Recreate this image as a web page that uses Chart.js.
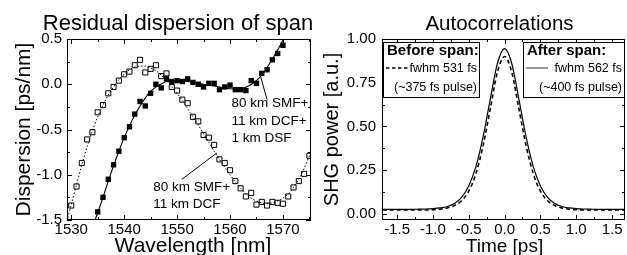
<!DOCTYPE html>
<html>
<head>
<meta charset="utf-8">
<script src="https://cdn.jsdelivr.net/npm/chart.js@4.4.1/dist/chart.umd.min.js"></script>
<style>
  html, body { margin: 0; padding: 0; background: #fff; }
  #wrap { position: relative; width: 627px; height: 255px; overflow: hidden; }
  canvas { position: absolute; top: 0; }
  #dispChart { left: 0; }
  #acChart { left: 318px; }
</style>
</head>
<body>
<div id="wrap">
  <canvas id="dispChart" width="318" height="255"></canvas>
  <canvas id="acChart" width="309" height="255"></canvas>
</div>
<script>
// ---- left: residual dispersion ----
// 80 km SMF + 11 km DCF (open squares)
const wlOpen = [1530, 1531, 1532, 1533, 1534, 1535, 1536, 1537, 1538, 1539, 1540, 1541, 1542, 1543, 1544, 1545,
  1546, 1547, 1548, 1549, 1550, 1551, 1552, 1553, 1554, 1555, 1556, 1557, 1558, 1559, 1560, 1561, 1562, 1563,
  1564, 1565, 1566, 1567, 1568, 1569, 1570, 1571, 1572, 1573, 1574, 1575];
const dispOpen = [-1.34, -1.13, -0.87, -0.61, -0.53, -0.31, -0.23, -0.10, -0.03, 0.04, 0.11, 0.14, 0.21, 0.27, 0.13, 0.17,
  0.21, 0.09, 0.12, -0.03, -0.07, -0.17, -0.21, -0.36, -0.41, -0.56, -0.59, -0.67, -0.83, -0.87, -0.95, -1.07, -1.15, -1.24,
  -1.20, -1.33, -1.30, -1.34, -1.30, -1.31, -1.32, -1.24, -1.14, -1.07, -0.99, -0.79];
// dotted fit through the open squares
const wlOpenFit = [1529, 1530, 1531, 1532, 1533, 1534, 1535, 1536, 1537, 1538, 1539, 1540, 1541, 1542, 1543, 1544,
  1545, 1546, 1547, 1548, 1549, 1550, 1551, 1552, 1553, 1554, 1555, 1556, 1557, 1558, 1559, 1560, 1561, 1562,
  1563, 1564, 1565, 1566, 1567, 1568, 1569, 1570, 1571, 1572, 1573, 1574, 1575, 1576];
const dispOpenFit = [-1.55, -1.33, -1.11, -0.89, -0.69, -0.51, -0.36, -0.23, -0.12, -0.03, 0.05, 0.11, 0.16, 0.19, 0.20, 0.20,
  0.18, 0.15, 0.10, 0.04, -0.03, -0.10, -0.18, -0.27, -0.36, -0.45, -0.55, -0.64, -0.74, -0.83, -0.92, -1.00, -1.08, -1.15,
  -1.21, -1.26, -1.29, -1.31, -1.32, -1.31, -1.29, -1.26, -1.21, -1.14, -1.05, -0.93, -0.79, -0.62];
// 80 km SMF + 11 km DCF + 1 km DSF (filled squares)
const wlClosed = [1535, 1536, 1537, 1538, 1539, 1540, 1541, 1542, 1543, 1544, 1545, 1546, 1547, 1548, 1549, 1550,
  1551, 1552, 1553, 1554, 1555, 1556, 1557, 1558, 1559, 1560, 1561, 1562, 1563, 1564, 1565, 1566, 1567, 1568, 1569, 1570];
const dispClosed = [-1.41, -1.25, -1.05, -0.89, -0.74, -0.59, -0.47, -0.33, -0.19, -0.24, -0.10, 0.00, -0.04, 0.06, 0.03, 0.04,
  0.03, 0.06, 0.02, 0.00, -0.03, 0.01, 0.01, -0.06, -0.03, -0.01, -0.06, -0.06, -0.07, 0.04, 0.01, 0.12, 0.16, 0.27, 0.34, 0.43];
// solid fit through the filled squares
const wlClosedFit = [1534.5, 1535, 1536, 1537, 1538, 1539, 1540, 1541, 1542, 1543, 1544, 1545, 1546, 1548, 1550, 1552,
  1554, 1556, 1558, 1560, 1562, 1563.5, 1565, 1566.5, 1568, 1569.5, 1571];
const dispClosedFit = [-1.50, -1.42, -1.25, -1.07, -0.90, -0.74, -0.59, -0.46, -0.34, -0.24, -0.15, -0.08, -0.03, 0.03, 0.04, 0.03,
  0.01, -0.01, -0.03, -0.05, -0.05, -0.02, 0.04, 0.14, 0.28, 0.43, 0.60];
const wlTicks = [1530, 1540, 1550, 1560, 1570];
const wlMinor = [1535, 1545, 1555, 1565, 1575];
const dispTicks = [-1.5, -1.0, -0.5, 0.0, 0.5];
const dispMinor = [-1.25, -0.75, -0.25, 0.25];

// ---- right: autocorrelations ----
const timePs = [-1.7, -1.6, -1.5, -1.4, -1.3, -1.2, -1.1, -1.0, -0.9, -0.8, -0.7, -0.6, -0.5, -0.4, -0.3, -0.2, -0.1, 0.0,
  0.1, 0.2, 0.3, 0.4, 0.5, 0.6, 0.7, 0.8, 0.9, 1.0, 1.1, 1.2, 1.3, 1.4, 1.5, 1.6, 1.7];
// before span, fwhm 531 fs (dashed)
const shgBefore = [0.022, 0.022, 0.022, 0.022, 0.022, 0.022, 0.022, 0.024, 0.027, 0.034, 0.048, 0.075, 0.13, 0.23, 0.39, 0.60, 0.81, 0.90,
  0.81, 0.60, 0.39, 0.23, 0.13, 0.075, 0.048, 0.034, 0.027, 0.024, 0.022, 0.022, 0.022, 0.022, 0.022, 0.022, 0.022];
// after span, fwhm 562 fs (solid)
const shgAfter = [0.026, 0.026, 0.026, 0.026, 0.026, 0.027, 0.028, 0.030, 0.034, 0.042, 0.060, 0.095, 0.16, 0.27, 0.44, 0.655, 0.86, 0.945,
  0.86, 0.655, 0.44, 0.27, 0.16, 0.095, 0.060, 0.042, 0.034, 0.030, 0.028, 0.027, 0.026, 0.026, 0.026, 0.026, 0.026];
const timeTicks = [-1.5, -1.0, -0.5, 0.0, 0.5, 1.0, 1.5];
const timeMinor = [-1.25, -0.75, -0.25, 0.25, 0.75, 1.25];
const shgTicks = [0.0, 0.25, 0.5, 0.75, 1.0];
const shgMinor = [0.125, 0.375, 0.625, 0.875];

const FONT = '"Liberation Sans", Arial, Helvetica, sans-serif';
const pts = (xs, ys) => xs.map((x, i) => ({ x, y: ys[i] }));

// 枠と内向きの目盛り
const frameTicks = {
  id: 'frameTicks',
  afterDatasetsDraw(chart, args, o) {
    const { ctx, chartArea: a, scales: { x, y } } = chart;
    ctx.save();
    ctx.strokeStyle = '#000';
    ctx.lineWidth = 1;
    ctx.strokeRect(a.left + 0.5, a.top + 0.5, a.width - 1, a.height - 1);
    const drawX = (vals, len) => vals.forEach(v => {
      const px = Math.round(x.getPixelForValue(v)) + 0.5;
      if (px < a.left || px > a.right) return;
      ctx.beginPath();
      ctx.moveTo(px, a.bottom); ctx.lineTo(px, a.bottom - len);
      ctx.moveTo(px, a.top); ctx.lineTo(px, a.top + len);
      ctx.stroke();
    });
    const drawY = (vals, len) => vals.forEach(v => {
      const py = Math.round(y.getPixelForValue(v)) + 0.5;
      ctx.beginPath();
      ctx.moveTo(a.left, py); ctx.lineTo(a.left + len, py);
      ctx.moveTo(a.right, py); ctx.lineTo(a.right - len, py);
      ctx.stroke();
    });
    drawX(o.xMajor, 5); drawX(o.xMinor, 3);
    drawY(o.yMajor, 5); drawY(o.yMinor, 3);
    ctx.restore();
  }
};

// タイトル・軸ラベル
const labels = {
  id: 'labels',
  afterDraw(chart, args, o) {
    const { ctx, chartArea: a } = chart;
    const cx = (a.left + a.right) / 2, cy = (a.top + a.bottom) / 2;
    ctx.save();
    ctx.fillStyle = '#000';
    ctx.textAlign = 'center';
    ctx.textBaseline = 'alphabetic';
    ctx.font = o.titleSize + 'px ' + FONT;
    ctx.fillText(o.title, cx + o.titleDx, 30);
    ctx.font = o.xSize + 'px ' + FONT;
    ctx.fillText(o.xTitle, cx + o.xDx, 252);
    ctx.translate(o.yX, cy);
    ctx.rotate(-Math.PI / 2);
    ctx.textBaseline = 'middle';
    ctx.font = o.ySize + 'px ' + FONT;
    ctx.fillText(o.yTitle, 0, 0);
    ctx.restore();
    if (o.extra) o.extra(chart);
  }
};

const axisFont = size => ({ family: FONT, size });

// 左グラフの注記
const dispNotes = chart => {
  const { ctx, scales: { x, y } } = chart;
  ctx.save();
  ctx.fillStyle = '#000';
  ctx.strokeStyle = '#000';
  ctx.lineWidth = 1;
  ctx.font = '13.5px ' + FONT;
  ctx.textAlign = 'left';
  ctx.textBaseline = 'alphabetic';
  const line = (x1, y1, x2, y2) => {
    ctx.beginPath();
    ctx.moveTo(x.getPixelForValue(x1), y.getPixelForValue(y1));
    ctx.lineTo(x.getPixelForValue(x2), y.getPixelForValue(y2));
    ctx.stroke();
  };
  line(1565.8, 0.08, 1567.0, -0.17);
  line(1550.9, -1.05, 1557.5, -0.76);
  const tx1 = x.getPixelForValue(1560.3);
  ['80 km SMF+', '11 km DCF+', '1 km DSF'].forEach((t, i) => ctx.fillText(t, tx1, 107 + i * 17.5));
  const tx2 = x.getPixelForValue(1545.5);
  ['80 km SMF+', '11 km DCF'].forEach((t, i) => ctx.fillText(t, tx2, 191 + i * 17));
  ctx.restore();
};

// 右グラフの凡例ボックス
const acLegend = chart => {
  const { ctx, chartArea: a } = chart;
  ctx.save();
  ctx.strokeStyle = '#000';
  ctx.fillStyle = '#000';
  ctx.lineWidth = 1;
  const box = (left, w, head, sample, l2, l3) => {
    const top = a.top + 3, h = 56;
    ctx.fillStyle = '#fff';
    ctx.fillRect(left, top, w, h);
    ctx.strokeRect(left + 0.5, top + 0.5, w - 1, h - 1);
    ctx.fillStyle = '#000';
    ctx.textBaseline = 'alphabetic';
    ctx.textAlign = 'left';
    ctx.font = 'bold 15px ' + FONT;
    ctx.fillText(head, left + 4, top + 13);
    ctx.font = '12.5px ' + FONT;
    ctx.textAlign = 'right';
    ctx.fillText(l2, left + w - 3, top + 30);
    ctx.fillText(l3, left + w - 3, top + 49);
    ctx.beginPath();
    ctx.setLineDash(sample.dash);
    ctx.strokeStyle = sample.color;
    ctx.lineWidth = sample.width;
    ctx.moveTo(left + 3, top + 26); ctx.lineTo(left + 25, top + 26);
    ctx.stroke();
    ctx.setLineDash([]);
    ctx.strokeStyle = '#000';
    ctx.lineWidth = 1;
  };
  box(a.left + 1, 97, 'Before span:', { dash: [3.5, 2.5], color: '#000', width: 1.5 }, 'fwhm 531 fs', '(~375 fs pulse)');
  box(a.right - 102, 102, 'After span:', { dash: [], color: '#777', width: 1.5 }, 'fwhm 562 fs', '(~400 fs pulse)');
  ctx.restore();
};

new Chart(document.getElementById('dispChart'), {
  type: 'scatter',
  data: {
    datasets: [
      { data: pts(wlOpenFit, dispOpenFit), showLine: true, borderColor: '#000', borderWidth: 1, borderDash: [1.5, 2],
        pointRadius: 0, tension: 0.3 },
      { data: pts(wlOpen, dispOpen), showLine: false, pointStyle: 'rect', pointRadius: 3.6,
        backgroundColor: '#fff', borderColor: '#000', borderWidth: 1 },
      { data: pts(wlClosedFit, dispClosedFit), showLine: true, borderColor: '#000', borderWidth: 1.1,
        pointRadius: 0, tension: 0.3 },
      { data: pts(wlClosed, dispClosed), showLine: false, pointStyle: 'rect', pointRadius: 3.8,
        backgroundColor: '#000', borderColor: '#000', borderWidth: 0 }
    ]
  },
  options: {
    responsive: false,
    animation: false,
    layout: { padding: { top: 39, right: 7, left: 0, bottom: 0 } },
    plugins: {
      legend: { display: false },
      tooltip: { enabled: false },
      frameTicks: { xMajor: wlTicks, xMinor: wlMinor, yMajor: dispTicks, yMinor: dispMinor },
      labels: { title: 'Residual dispersion of span', titleSize: 22, titleDx: -11,
        xTitle: 'Wavelength [nm]', xSize: 21, xDx: 4, yTitle: 'Dispersion [ps/nm]', ySize: 21, yX: 24,
        extra: dispNotes }
    },
    scales: {
      x: {
        type: 'linear', min: 1529.2, max: 1575.3,
        afterBuildTicks: s => { s.ticks = wlTicks.map(v => ({ value: v })); },
        afterFit: s => { s.height = 35; },
        grid: { display: false, drawTicks: false },
        border: { display: false },
        ticks: { font: axisFont(15), color: '#000', padding: 1, autoSkip: false, maxRotation: 0,
          callback: v => String(v) }
      },
      y: {
        min: -1.5, max: 0.5,
        afterBuildTicks: s => { s.ticks = dispTicks.map(v => ({ value: v })); },
        afterFit: s => { s.width = 67; },
        grid: { display: false, drawTicks: false },
        border: { display: false },
        ticks: { font: axisFont(15), color: '#000', padding: 5, autoSkip: false,
          callback: v => v.toFixed(1) }
      }
    }
  },
  plugins: [frameTicks, labels]
});

new Chart(document.getElementById('acChart'), {
  type: 'scatter',
  data: {
    datasets: [
      { data: pts(timePs, shgBefore), showLine: true, borderColor: '#000', borderWidth: 1.6, borderDash: [4, 3],
        pointRadius: 0, cubicInterpolationMode: 'monotone' },
      { data: pts(timePs, shgAfter), showLine: true, borderColor: '#000', borderWidth: 1.2,
        pointRadius: 0, cubicInterpolationMode: 'monotone' }
    ]
  },
  options: {
    responsive: false,
    animation: false,
    layout: { padding: { top: 39, right: 2, left: 0, bottom: 0 } },
    plugins: {
      legend: { display: false },
      tooltip: { enabled: false },
      frameTicks: { xMajor: timeTicks, xMinor: timeMinor, yMajor: shgTicks, yMinor: shgMinor },
      labels: { title: 'Autocorrelations', titleSize: 20.5, titleDx: -4,
        xTitle: 'Time [ps]', xSize: 19, xDx: 1, yTitle: 'SHG power [a.u.]', ySize: 20, yX: 14,
        extra: acLegend }
    },
    scales: {
      x: {
        type: 'linear', min: -1.71, max: 1.68,
        afterBuildTicks: s => { s.ticks = timeTicks.map(v => ({ value: v })); },
        afterFit: s => { s.height = 35; },
        grid: { display: false, drawTicks: false },
        border: { display: false },
        ticks: { font: axisFont(15), color: '#000', padding: 1, autoSkip: false, maxRotation: 0,
          callback: v => v.toFixed(1) }
      },
      y: {
        min: -0.035, max: 1.0,
        afterBuildTicks: s => { s.ticks = shgTicks.map(v => ({ value: v })); },
        afterFit: s => { s.width = 64; },
        grid: { display: false, drawTicks: false },
        border: { display: false },
        ticks: { font: axisFont(15), color: '#000', padding: 6, autoSkip: false,
          callback: v => v.toFixed(2) }
      }
    }
  },
  plugins: [frameTicks, labels]
});
</script>
</body>
</html>
